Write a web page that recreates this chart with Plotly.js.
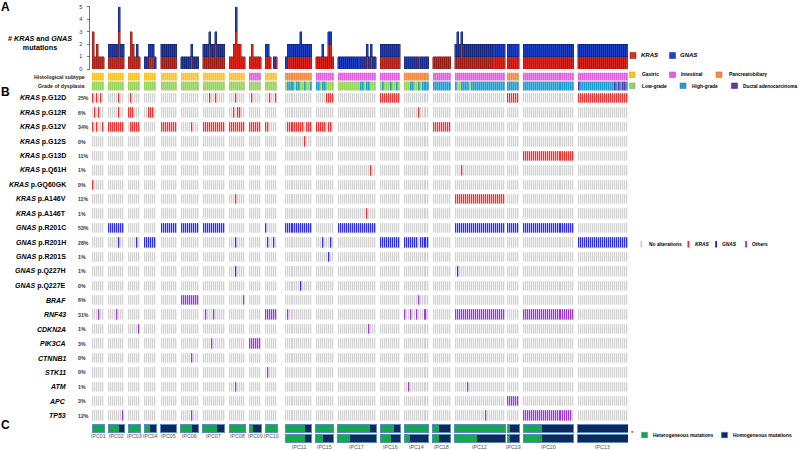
<!DOCTYPE html>
<html>
<head>
<meta charset="utf-8">
<title>KRAS / GNAS oncoprint</title>
<script src="https://cdn.plot.ly/plotly-3.0.1.min.js"></script>
<style>body{margin:0;background:#fff}</style>
</head>
<body>
<div id="chart" style="width:800px;height:450px"></div>
<script>
// patients, in plotting order, and number of samples per patient
const patients = ["IPC01","IPC02","IPC03","IPC04","IPC05","IPC06","IPC07","IPC08","IPC09","IPC10",
                  "IPC11","IPC15","IPC17","IPC16","IPC14","IPC18","IPC12","IPC19","IPC20","IPC13"];
const nSamples = [6,8,6,6,8,9,11,8,6,6,13,9,19,10,12,9,25,6,25,25];

// histological subtype per patient: G gastric, I intestinal, P pancreatobiliary
const histology = ["G","G","G","G","G","G","G","G","I","G","P","I","I","I","P","I","I","P","I","I"];

// grade of dysplasia per sample: L low-grade, H high-grade, D ductal adenocarcinoma
const grade = [
  "LLLLLL","LLLLLLLL","LLLLLL","LLLLLL","LLLLLLLL","LLLLLLLLL","LLLLLLLLLLL","LLLLLLLL","LLLLLL","LLLLLL",
  "LHHHLHHLLHLLH","HHLHHLLLL","LLLLLLLLLLLHHLHHLLL","LHLLLHLLHL","LLLHHLLHLHHH","HHHHHHHHH",
  "HLLHHHHLHHHHHHHHHHHHHHHHH","HHHHHH","HHHHHHHHHHHHHHHHHHHHHHHHH","DHHHHHHHHHHHHHHHHHDHDHDDH"
];

// oncoprint rows
const rowGene = ["KRAS","KRAS","KRAS","KRAS","KRAS","KRAS","KRAS","KRAS","KRAS",
                 "GNAS","GNAS","GNAS","GNAS","GNAS",
                 "BRAF","RNF43","CDKN2A","PIK3CA","CTNNB1","STK11","ATM","APC","TP53"];
const rowVariant = ["p.G12D","p.G12R","p.G12V","p.G12S","p.G13D","p.Q61H","p.GQ60GK","p.A146V","p.A146T",
                    "p.R201C","p.R201H","p.R201S","p.Q227H","p.Q227E",
                    "","","","","","","","",""];
const rowPct = ["25%","6%","34%","0%","11%","1%","0%","11%","1%","53%","28%","1%","1%","0%",
                "6%","31%","1%","3%","0%","0%","1%","3%","12%"];
// 1 = KRAS, 2 = GNAS, 3 = others
const rowType = [1,1,1,1,1,1,1,1,1,2,2,2,2,2,3,3,3,3,3,3,3,3,3];

// mutated samples per row: patient -> sample mask ("1" = altered)
const rowHits = [
  {IPC01:"101010",IPC02:"00000100",IPC03:"010000",IPC07:"00010010000",IPC08:"00010000",IPC09:"010000",
   IPC10:"001001",IPC15:"000001111",IPC16:"1111111111",IPC19:"111111",IPC13:"1111111111111111111111111"},
  {IPC01:"010100",IPC02:"00000100",IPC03:"111000",IPC04:"001110",IPC08:"00101100",IPC14:"000000010000"},
  {IPC01:"101001",IPC02:"11111111",IPC03:"011111",IPC05:"11111111",IPC06:"000001000",IPC07:"11111111111",
   IPC08:"11111111",IPC09:"111111",IPC10:"110000",IPC11:"0111111110111",IPC15:"111110110",IPC18:"111111111"},
  {IPC11:"0000000001000"},
  {IPC20:"1111111111111111111111111"},
  {IPC17:"0000000000000000100",IPC12:"0001"},
  {IPC01:"100000"},
  {IPC08:"00010000",IPC12:"1111111111111111111111111"},
  {IPC17:"00000000000000100"},
  {IPC02:"11111111",IPC05:"11111111",IPC06:"111111111",IPC07:"11111111111",IPC10:"1",IPC11:"1111111111111",
   IPC17:"1111111111111111111",IPC12:"1111111111111111111111111",IPC19:"111111",IPC20:"1111111111111111111111111"},
  {IPC02:"00000100",IPC03:"000010",IPC04:"111111",IPC08:"00010000",IPC10:"010010",IPC15:"00010001",
   IPC16:"1111111111",IPC14:"111111101111",IPC13:"1111111111111111111111111"},
  {IPC15:"0000001"},
  {IPC08:"0001",IPC12:"01"},
  {IPC11:"0000000100000"},
  {IPC06:"111111111",IPC08:"00000001",IPC14:"000000010000"},
  {IPC01:"000100",IPC02:"00001000",IPC07:"01000100000",IPC10:"111111",IPC11:"0100000000000",
   IPC14:"100100100010",IPC12:"1111111111111111111111111",IPC20:"1111111111111111111111111"},
  {IPC03:"000001",IPC17:"000000000000000100"},
  {IPC07:"00001",IPC09:"111111"},
  {IPC06:"000001"},
  {IPC10:"01"},
  {IPC08:"0001",IPC14:"001",IPC12:"0000001"},
  {IPC19:"111111"},
  {IPC02:"00000001",IPC06:"000001",IPC12:"0000000000000001",IPC20:"111111111111111111111111"}
];

// panel C: share of heterogeneous mutations per patient (row 1 and row 2)
const hetRow1 = [1.0,0.7,1.0,0.47,0,0.65,0.66,1.0,0.32,1.0,0.75,1.0,0.83,0.7,1.0,0.35,1.0,0.22,0.37,0];
const hetRow2 = [null,null,null,null,null,null,null,null,null,null,0.75,0.38,0.33,0.56,0.25,0.35,0.44,0.22,0.37,0];

// ---- layout helpers ----
const W = 800, H = 450;
const px = v => v / W;
const py = v => 1 - v / H;
const FONT = "Arial, 'Liberation Sans', sans-serif";
const gapAfter = [2,2,2,2,2,2,2,2,2,4,2,2,2,2,2,2,1,2,2];

const starts = [];
const sampleSlot = [], samplePat = [], sampleIdx = [];
let slot = 0;
patients.forEach((p, i) => {
  starts.push(slot);
  for (let k = 0; k < nSamples[i]; k++) {
    sampleSlot.push(slot + k); samplePat.push(i); sampleIdx.push(k);
  }
  slot += nSamples[i] + (gapAfter[i] || 0);
});
const nSlots = slot;
const slots = Array.from({length: nSlots}, (_, i) => i);

function hit(r, s) {
  const m = rowHits[r][patients[samplePat[s]]];
  return m && m[sampleIdx[s]] === "1" ? 1 : 0;
}

// mutation matrix
const zMut = rowGene.map((g, r) => {
  const row = new Array(nSlots).fill(null);
  sampleSlot.forEach((sl, s) => { row[sl] = hit(r, s) ? rowType[r] : 0; });
  return row;
});

// annotation rows (0 gastric,1 intestinal,2 pancreato,3 low,4 high,5 ductal)
const histCode = {G: 0, I: 1, P: 2}, gradeCode = {L: 3, H: 4, D: 5};
const zHist = new Array(nSlots).fill(null), zGrade = new Array(nSlots).fill(null);
sampleSlot.forEach((sl, s) => {
  zHist[sl] = histCode[histology[samplePat[s]]];
  zGrade[sl] = gradeCode[grade[samplePat[s]][sampleIdx[s]]];
});

// mutation counts per sample
const krasN = [], gnasN = [];
sampleSlot.forEach((sl, s) => {
  let k = 0, g = 0;
  rowType.forEach((t, r) => { if (t === 1) k += hit(r, s); if (t === 2) g += hit(r, s); });
  krasN.push(k || null); gnasN.push(g || null);
});

const traces = [];
traces.push({type: "bar", x: sampleSlot, y: krasN, width: 1, yaxis: "y",
  marker: {color: "#d9281d", line: {color: "#7d1812", width: 0.5}}, hoverinfo: "skip"});
traces.push({type: "bar", x: sampleSlot, y: gnasN, width: 1, yaxis: "y",
  marker: {color: "#1f3fc2", line: {color: "#101f66", width: 0.5}}, hoverinfo: "skip"});

traces.push({type: "heatmap", x: slots, y: [0, 1], z: [zGrade, zHist], yaxis: "y2",
  zmin: 0, zmax: 5, showscale: false, xgap: 0.25, ygap: 1, hoverinfo: "skip",
  colorscale: [[0,"#fbc425"],[0.1,"#fbc425"],[0.1,"#e25fe0"],[0.3,"#e25fe0"],[0.3,"#f5883c"],[0.5,"#f5883c"],
               [0.5,"#95d35c"],[0.7,"#95d35c"],[0.7,"#1f9fd2"],[0.9,"#1f9fd2"],[0.9,"#7030a0"],[1,"#7030a0"]]});

traces.push({type: "heatmap", x: slots, y: rowGene.map((g, r) => r), z: zMut, yaxis: "y3",
  zmin: 0, zmax: 3, showscale: false, xgap: 0.7, ygap: 4.4, hoverinfo: "skip",
  colorscale: [[0,"#d3d3d3"],[0.1667,"#d3d3d3"],[0.1667,"#ff2b2b"],[0.5,"#ff2b2b"],
               [0.5,"#2b2bff"],[0.8333,"#2b2bff"],[0.8333,"#a035e0"],[1,"#a035e0"]]});

// panel C
[hetRow1, hetRow2].forEach((het, row) => {
  const ys = [], gx = [], gb = [], nx = [], nb = [], ox = [], ob = [];
  het.forEach((f, i) => {
    if (f === null) return;
    const b = starts[i] - 0.5, n = nSamples[i];
    ys.push(row); ox.push(n); ob.push(b);
    gx.push(f > 0 ? n * f : null); gb.push(b);
    nx.push(f < 1 ? n * (1 - f) : null); nb.push(b + n * f);
  });
  traces.push({type: "bar", orientation: "h", y: ys, x: gx, base: gb, width: 0.8, yaxis: "y4",
    marker: {color: "#12a94f"}, hoverinfo: "skip"});
  traces.push({type: "bar", orientation: "h", y: ys, x: nx, base: nb, width: 0.8, yaxis: "y4",
    marker: {color: "#0c2a5f"}, hoverinfo: "skip"});
  traces.push({type: "bar", orientation: "h", y: ys, x: ox, base: ob, width: 0.8, yaxis: "y4",
    marker: {color: "rgba(0,0,0,0)", line: {color: "#5b8cbb", width: 1}}, hoverinfo: "skip"});
});

// ---- annotations ----
const ann = [];
function txt(x, y, text, size, opts) {
  ann.push(Object.assign({xref: "paper", yref: "paper", x: px(x), y: py(y), text: text, showarrow: false,
    xanchor: "left", yanchor: "middle", font: {family: FONT, size: size, color: "#000"}}, opts || {}));
}
txt(5, 7, "<b>A</b>", 12, {xanchor: "center"});
txt(5, 92, "<b>B</b>", 12, {xanchor: "center"});
txt(5, 425, "<b>C</b>", 12, {xanchor: "center"});
txt(39.5, 43, "<b># <i>KRAS</i> and <i>GNAS</i><br>mutations</b>", 7.2, {xanchor: "center", align: "center"});
txt(86.5, 76.5, "<b>Histological subtype</b>", 5.2, {xanchor: "right", font: {family: FONT, size: 5.2, color: "#222"}});
txt(86.5, 86, "<b>Grade of dysplasia</b>", 5.2, {xanchor: "right", font: {family: FONT, size: 5.2, color: "#222"}});

const row0 = 98.3, pitch = 14.43;
rowGene.forEach((g, r) => {
  const y = row0 + pitch * r;
  const label = rowVariant[r] ? "<b><i>" + g + "</i> " + rowVariant[r] + "</b>" : "<b><i>" + g + "</i></b>";
  txt(67.5, y, label, 7, {xanchor: "right"});
  txt(76, y, "<b>" + rowPct[r] + "</b>", 5.2, {font: {family: FONT, size: 5.2, color: "#333"}});
});

patients.forEach((p, i) => {
  const c = starts[i] + (nSamples[i] - 1) / 2;
  ann.push({xref: "x", yref: "paper", x: c, y: py(hetRow2[i] === null ? 435.5 : 446.5), text: p,
    showarrow: false, xanchor: "center", yanchor: "middle", font: {family: FONT, size: 5.3, color: "#555"}});
});
txt(628.5, 433, "*", 6);

// legends
const shapes = [];
function sw(x0, y0, x1, y1, fill, line) {
  shapes.push({type: "rect", xref: "paper", yref: "paper", x0: px(x0), x1: px(x1), y0: py(y1), y1: py(y0),
    fillcolor: fill, line: {color: line || fill, width: line ? 0.6 : 0}});
}
const LF = 4.9;
sw(630, 52.5, 636, 58.5, "#e2311f", "#9a2a20"); txt(638.5, 55.5, "<b><i>KRAS</i></b>", 6);
sw(669.5, 52.5, 675.5, 58.5, "#2041d8", "#223a90"); txt(678, 55.5, "<b><i>GNAS</i></b>", 6);
sw(629.5, 72, 635, 77.5, "#fbc425", "#c9a03a"); txt(639.5, 75, "<b>Gastric</b>", LF);
sw(669.5, 72, 675.5, 77.5, "#e25fe0", "#b05ab0"); txt(679, 75, "<b>Intestinal</b>", LF);
sw(716, 72, 722, 77.5, "#f5883c", "#c0784a"); txt(726.5, 75, "<b>Pancreatobiliary</b>", LF);
sw(629.5, 83, 635, 88.5, "#95d35c", "#7aa85a"); txt(640, 86, "<b>Low-grade</b>", LF);
sw(680, 83, 686, 88.5, "#1f9fd2", "#3a86a8"); txt(689.5, 86, "<b>High-grade</b>", LF);
sw(731.5, 83, 737.5, 88.5, "#7030a0", "#5a3080"); txt(741, 86, "<b>Ductal adenocarcinoma</b>", 4.8);

sw(640.5, 241, 642.2, 247.5, "#c8c8c8"); txt(646.5, 244.5, "<b>No alterations</b>", LF);
sw(687.5, 241, 689.3, 247.5, "#ff2020"); txt(692.5, 244.5, "<b><i>KRAS</i></b>", LF);
sw(715.2, 241, 717, 247.5, "#2020ff"); txt(719.5, 244.5, "<b><i>GNAS</i></b>", LF);
sw(745.2, 241, 747, 247.5, "#9a30e0"); txt(749.5, 244.5, "<b>Others</b>", LF);

sw(641.5, 432.3, 647.5, 437.8, "#12a94f", "#4d8fa8"); txt(651, 435.2, "<b>Heterogeneous mutations</b>", LF);
sw(721.5, 432.3, 727.5, 437.8, "#0c2a5f", "#4d6fa8"); txt(731, 435.2, "<b>Homogeneous mutations</b>", LF);

const layout = {
  width: W, height: H, margin: {l: 0, r: 0, t: 0, b: 0},
  paper_bgcolor: "#fff", plot_bgcolor: "rgba(0,0,0,0)", showlegend: false,
  barmode: "stack", bargap: 0,
  xaxis: {domain: [px(92), px(628)], range: [-0.5, nSlots - 0.5], visible: false, fixedrange: true},
  yaxis: {domain: [py(69), py(6.7)], range: [0, 5], anchor: "free", position: px(89.5),
    tickvals: [0,1,2,3,4,5], ticks: "outside", ticklen: 3, tickwidth: 0.8, tickcolor: "#555",
    showline: true, linecolor: "#555", linewidth: 0.8, showgrid: false, zeroline: false,
    tickfont: {family: FONT, size: 5.5, color: "#333"}, ticklabelstandoff: 3},
  yaxis2: {domain: [py(91), py(72.5)], range: [-0.5, 1.5], visible: false},
  yaxis3: {domain: [py(423), py(91.1)], range: [22.5, -0.5], visible: false},
  yaxis4: {domain: [py(444), py(423.5)], range: [1.5, -0.5], visible: false},
  annotations: ann, shapes: shapes
};

Plotly.newPlot("chart", traces, layout, {staticPlot: true});
</script>
</body>
</html>
